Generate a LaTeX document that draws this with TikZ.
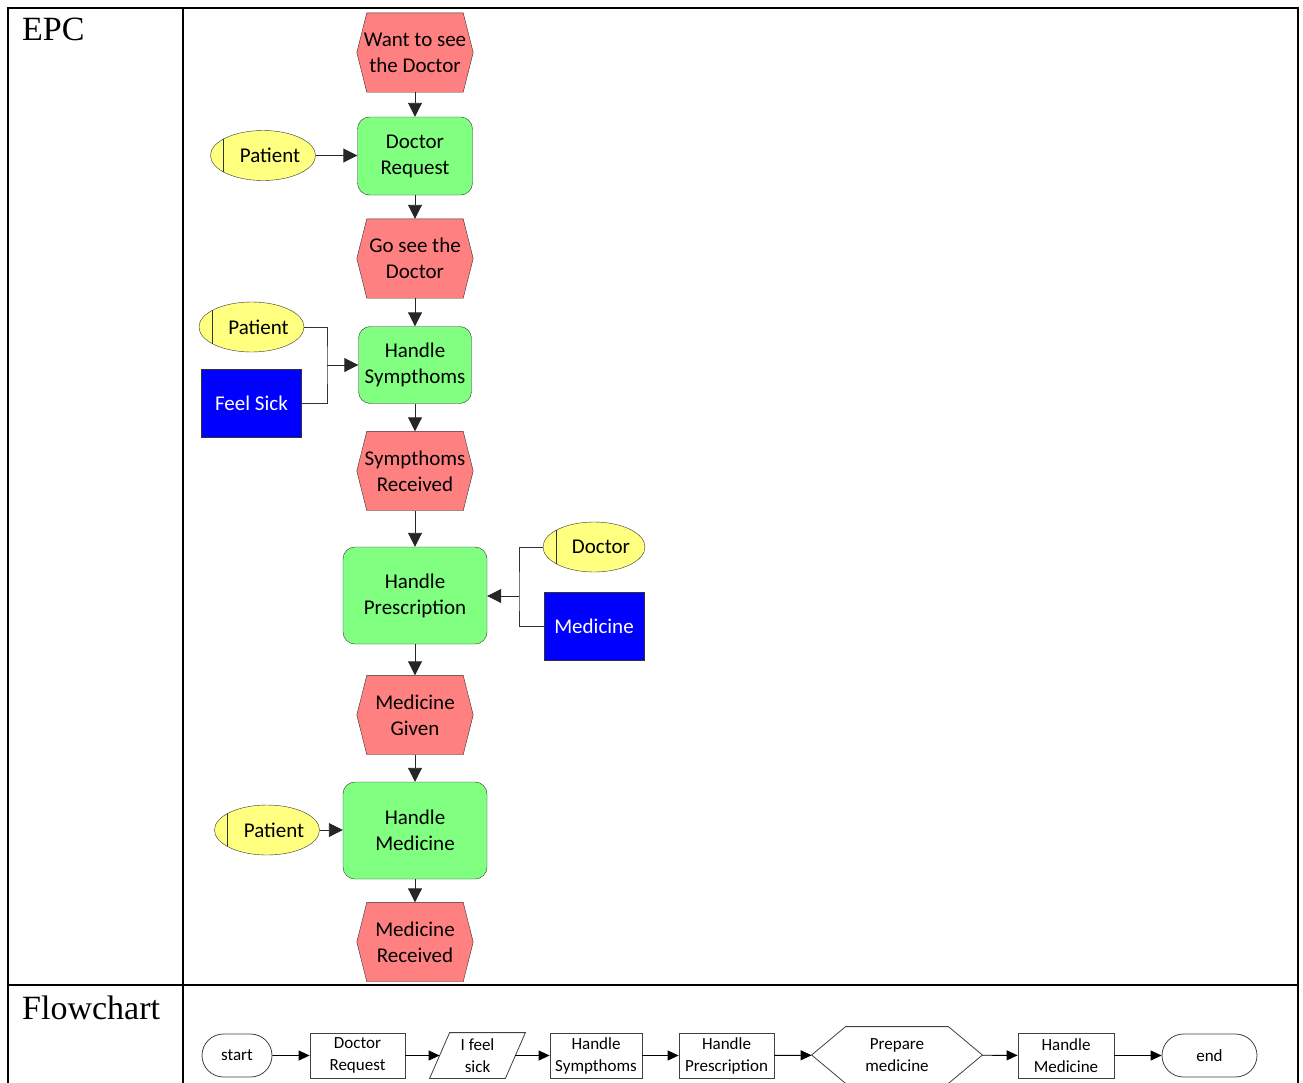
\documentclass[tikz,border=0pt]{standalone}
\usepackage{fontspec}
\setmainfont{Carlito}
\newfontfamily\headfont{Liberation Serif}
\usetikzlibrary{arrows.meta,shapes.geometric,shapes.misc,backgrounds}

\definecolor{eventred}{HTML}{FF8080}
\definecolor{funcgreen}{HTML}{80FF80}
\definecolor{unityellow}{HTML}{FFFF80}
\definecolor{resblue}{HTML}{0000FF}

\newcommand{\epcsize}{\fontsize{21}{26}\selectfont}
\newcommand{\fcsize}{\fontsize{17}{22}\selectfont}

\tikzset{
  evt/.style={minimum width=116pt, minimum height=79pt, inner sep=0pt, align=center, font=\epcsize},
  fnc/.style={draw=black!80, fill=funcgreen, rounded corners=12pt, inner sep=0pt, align=center, font=\epcsize},
  orgunit/.style={ellipse, draw=black!80, fill=unityellow, minimum width=100pt, minimum height=50pt,
    inner sep=0pt, font=\epcsize, execute at begin node=\hspace*{14pt},
    path picture={\draw[black!80] ([xshift=13pt]path picture bounding box.north west)
      -- ([xshift=13pt]path picture bounding box.south west);}},
  resrc/.style={draw=black!80, fill=resblue, text=white, minimum width=100pt, minimum height=68pt,
    inner sep=0pt, font=\epcsize},
  flowarrow/.style={draw=black!85, line width=0.9pt, -{Triangle[length=14pt,width=14pt]}},
  linkline/.style={draw=black!80, line width=0.9pt},
  fcbox/.style={draw=black!75, line width=0.8pt, minimum height=45pt, inner sep=0pt, align=center, font=\fcsize},
  fcterm/.style={fcbox, rounded rectangle, minimum height=43pt},
  fcarrow/.style={line width=0.9pt, -{Triangle[length=11pt,width=10pt]}},
  headtext/.style={font=\headfont\fontsize{34}{40}\selectfont, inner sep=0pt, anchor=base west},
  tabline/.style={line width=2pt}
}

\begin{document}
\begin{tikzpicture}[x=1pt, y=-1pt]
  \clip (0,0) rectangle (1303,1082);

  % table
  \draw[tabline] (8,1095) -- (8,8) -- (1298,8) -- (1298,1095);
  \draw[tabline] (183,8) -- (183,1095);
  \draw[tabline] (8,985) -- (1298,985);
  \node[headtext] (hepc) at (22,40) {EPC};
  \node[headtext] (hfc) at (22,1019) {Flowchart};

  % EPC
  \node[evt] (e1) at (415,52.5) {Want to see\\the Doctor};
  \node[fnc, minimum width=115pt, minimum height=78pt] (f1) at (415,156) {Doctor\\Request};
  \node[orgunit] (p1) at (263,155.5) {Patient};
  \node[evt] (e2) at (415,258.5) {Go see the\\Doctor};
  \node[fnc, minimum width=113pt, minimum height=77pt] (f2) at (415,365) {Handle\\Sympthoms};
  \node[orgunit] (p2) at (251.5,327) {Patient};
  \node[resrc] (fs) at (251.5,403) {Feel Sick};
  \node[evt] (e3) at (415,471) {Sympthoms\\Received};
  \node[fnc, minimum width=144pt, minimum height=97pt] (f3) at (415,595.5) {Handle\\Prescription};
  \node[orgunit] (dr) at (594,547) {Doctor};
  \node[resrc] (md) at (594,626) {Medicine};
  \node[evt] (e4) at (415,715) {Medicine\\Given};
  \node[fnc, minimum width=144pt, minimum height=97pt] (f4) at (415,830.5) {Handle\\Medicine};
  \node[orgunit] (p4) at (267,830) {Patient};
  \node[evt] (e5) at (415,942) {Medicine\\Received};

  \foreach \a/\b in {e1/f1,f1/e2,e2/f2,f2/e3,e3/f3,f3/e4,e4/f4,f4/e5}
    \draw[flowarrow] (\a) -- (\b);

  \draw[flowarrow] (p1.east) -- (p1.east -| f1.west);
  \coordinate (j2) at (327,365);
  \draw[linkline] (p2.east) -| (j2) |- (fs.east);
  \draw[flowarrow] (j2) -- (j2 -| f2.west);
  \coordinate (j3) at (519,596);
  \draw[linkline] (dr.west) -| (j3) |- (md.west);
  \draw[flowarrow] (j3) -- (j3 -| f3.east);
  \draw[flowarrow] (p4.east) -- (p4.east -| f4.west);

  % Flowchart
  \node[fcterm, minimum width=70pt] (st) at (237,1055.5) {start};
  \node[fcbox, minimum width=95pt] (fc1) at (357.5,1055.5) {Doctor\\Request};
  \node[fcbox, draw=none, minimum width=75pt] (fc2) at (477.5,1055.5) {I feel\\sick};
  \node[fcbox, minimum width=92pt] (fc3) at (596,1055.5) {Handle\\Sympthoms};
  \node[fcbox, minimum width=95pt] (fc4) at (726.5,1055.5) {Handle\\Prescription};
  \node[fcbox, draw=none, minimum width=170pt, minimum height=56pt] (fc5) at (897,1055) {Prepare\\medicine};
  \node[fcbox, minimum width=96pt] (fc6) at (1066,1055.5) {Handle\\Medicine};
  \node[fcterm, minimum width=95pt] (en) at (1209.5,1055.5) {end};

  \foreach \a/\b in {st/fc1,fc1/fc2,fc2/fc3,fc3/fc4,fc4/fc5,fc5/fc6,fc6/en}
    \draw[fcarrow] (\a) -- (\b);

  \begin{scope}[on background layer]
    \foreach \ev in {e1,e2,e3,e4,e5}
      \filldraw[draw=black!80, fill=eventred] (\ev.west) -- ([xshift=10pt]\ev.north west)
        -- ([xshift=-10pt]\ev.north east) -- (\ev.east) -- ([xshift=-10pt]\ev.south east)
        -- ([xshift=10pt]\ev.south west) -- cycle;
    \draw[black!75, line width=0.8pt] ([xshift=-10pt]fc2.south west) -- ([xshift=10pt]fc2.north west)
      -- ([xshift=10pt]fc2.north east) -- ([xshift=-10pt]fc2.south east) -- cycle;
    \draw[black!75, line width=0.8pt] (fc5.west) -- ([xshift=34pt]fc5.north west)
      -- ([xshift=-34pt]fc5.north east) -- (fc5.east) -- ([xshift=-34pt]fc5.south east)
      -- ([xshift=34pt]fc5.south west) -- cycle;
  \end{scope}
\end{tikzpicture}
\end{document}
